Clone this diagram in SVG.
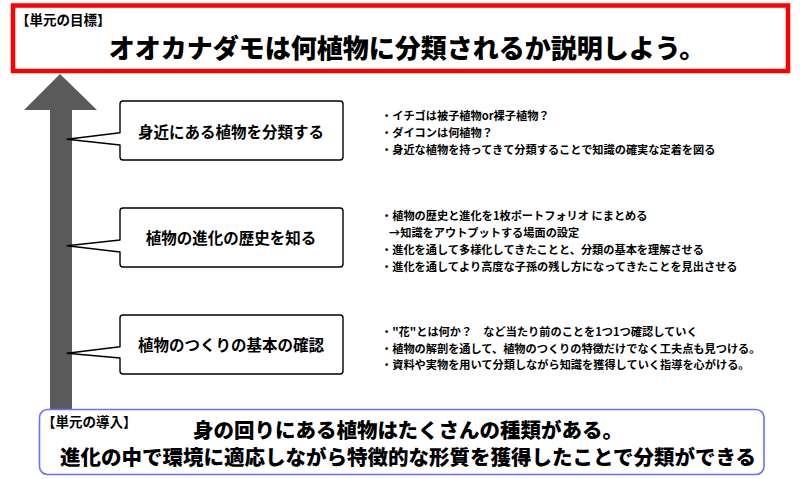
<svg xmlns="http://www.w3.org/2000/svg" width="800" height="479" viewBox="0 0 800 479">
<style>
  text { font-family: "Noto Sans CJK JP", "Noto Sans", sans-serif; font-weight: 700; fill: #000; }
  .heavy { font-weight: 900; }
  .callout { fill: #fff; stroke: #000; stroke-width: 1.4; stroke-linejoin: round; }
  .step { font-size: 15.5px; text-anchor: middle; }
  .note { font-size: 11.2px; }
  .tag { font-size: 13.5px; }
</style>
<rect width="800" height="479" fill="#fff"/>

<g id="connectors">
  <polygon points="60,74 97,110 72,110 72,412 50,412 50,110 24,110" fill="#5a5a5a"/>
</g>

<g id="goal">
  <rect x="13" y="5.5" width="775" height="65.5" fill="#fff" stroke="#ff0000" stroke-width="4.5"/>
  <text class="tag" x="16" y="25">【単元の目標】</text>
  <text class="heavy" x="407" y="58" font-size="26" text-anchor="middle">オオカナダモは何植物に分類されるか説明しよう。</text>
</g>

<g id="step1">
  <path class="callout" d="M123 101 H340 Q343 101 343 104 V157 Q343 160 340 160 H123 Q120 160 120 157 V145 L67 139.3 L120 132.7 V104 Q120 101 123 101 Z"/>
  <text class="step" x="231" y="138.4">身近にある植物を分類する</text>
</g>

<g id="step2">
  <path class="callout" d="M123 208 H340 Q343 208 343 211 V264 Q343 267 340 267 H123 Q120 267 120 264 V252 L67 245.7 L120 240 V211 Q120 208 123 208 Z"/>
  <text class="step" x="231" y="244.2">植物の進化の歴史を知る</text>
</g>

<g id="step3">
  <path class="callout" d="M123 315 H340 Q343 315 343 318 V371 Q343 374 340 374 H123 Q120 374 120 371 V358 L67 353.3 L120 346.7 V318 Q120 315 123 315 Z"/>
  <text class="step" x="231" y="351.2">植物のつくりの基本の確認</text>
</g>

<g id="notes1">
  <text class="note" x="381" y="119.5">・イチゴは被子植物or裸子植物？</text>
  <text class="note" x="381" y="136.7">・ダイコンは何植物？</text>
  <text class="note" x="381" y="154.2">・身近な植物を持ってきて分類することで知識の確実な定着を図る</text>
</g>

<g id="notes2">
  <text class="note" x="381" y="220">・植物の歴史と進化を1枚ポートフォリオ にまとめる</text>
  <text class="note" x="389" y="237">→知識をアウトプットする場面の設定</text>
  <text class="note" x="381" y="253.6">・進化を通して多様化してきたことと、分類の基本を理解させる</text>
  <text class="note" x="381" y="271">・進化を通してより高度な子孫の残し方になってきたことを見出させる</text>
</g>

<g id="notes3">
  <text class="note" x="381" y="336">・"花"とは何か？　など当たり前のことを1つ1つ確認していく</text>
  <text class="note" x="381" y="352.5">・植物の解剖を通して、植物のつくりの特徴だけでなく工夫点も見つける。</text>
  <text class="note" x="381" y="369">・資料や実物を用いて分類しながら知識を獲得していく指導を心がける。</text>
</g>

<g id="intro">
  <rect x="39.5" y="409.5" width="724.5" height="65" rx="8" ry="8" fill="#fff" stroke="#6f6ff7" stroke-width="1.6"/>
  <text class="tag" x="42" y="426.5">【単元の導入】</text>
  <text class="heavy" x="408" y="437.5" font-size="20.5" text-anchor="middle">身の回りにある植物はたくさんの種類がある。</text>
  <text class="heavy" x="408" y="465" font-size="20.5" text-anchor="middle">進化の中で環境に適応しながら特徴的な形質を獲得したことで分類ができる</text>
</g>
</svg>
